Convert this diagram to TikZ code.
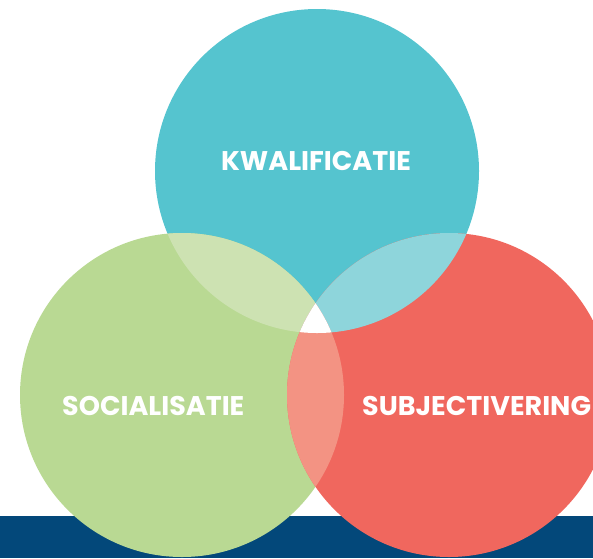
\documentclass[tikz,border=0pt]{standalone}
\usepackage{fontspec}
\setmainfont{Poppins}[BoldFont={* Bold}]
\definecolor{cyanc}{HTML}{55C4CF}
\definecolor{greenc}{HTML}{B9D993}
\definecolor{redc}{HTML}{F0675E}
\definecolor{barc}{HTML}{03487A}
\definecolor{gtc}{HTML}{CDE2B2}
\definecolor{trc}{HTML}{8ED5DB}
\definecolor{grc}{HTML}{F39383}
\tikzset{lbl/.style={text=white,font=\bfseries\fontsize{27}{27}\selectfont,inner sep=0pt}}
\begin{document}
\begin{tikzpicture}[x=1pt,y=-1pt]
\useasboundingbox (0,0) rectangle (593,558);
\clip (0,0) rectangle (593,558);
\fill[barc] (0,516) rectangle (593,558);
\coordinate (T) at (317,171);
\coordinate (G) at (182,395);
\coordinate (R) at (449,395);
\fill[cyanc] (T) circle[radius=162];
\fill[greenc] (G) circle[radius=162];
\fill[redc] (R) circle[radius=162];
\begin{scope}
\clip (T) circle[radius=162];
\fill[gtc] (G) circle[radius=162];
\fill[trc] (R) circle[radius=162];
\end{scope}
\begin{scope}
\clip (G) circle[radius=162];
\fill[grc] (R) circle[radius=162];
\end{scope}
\begin{scope}
\clip (T) circle[radius=162];
\clip (G) circle[radius=162];
\fill[white] (R) circle[radius=162];
\end{scope}
\node[lbl,anchor=base] (k) at (316,170) {KWALIFICATIE};
\node[lbl,anchor=base west] (s) at (62,415) {SOCIALISATIE};
\node[lbl,anchor=base west] (u) at (362,415) {SUBJECTIVERING};
\end{tikzpicture}
\end{document}
